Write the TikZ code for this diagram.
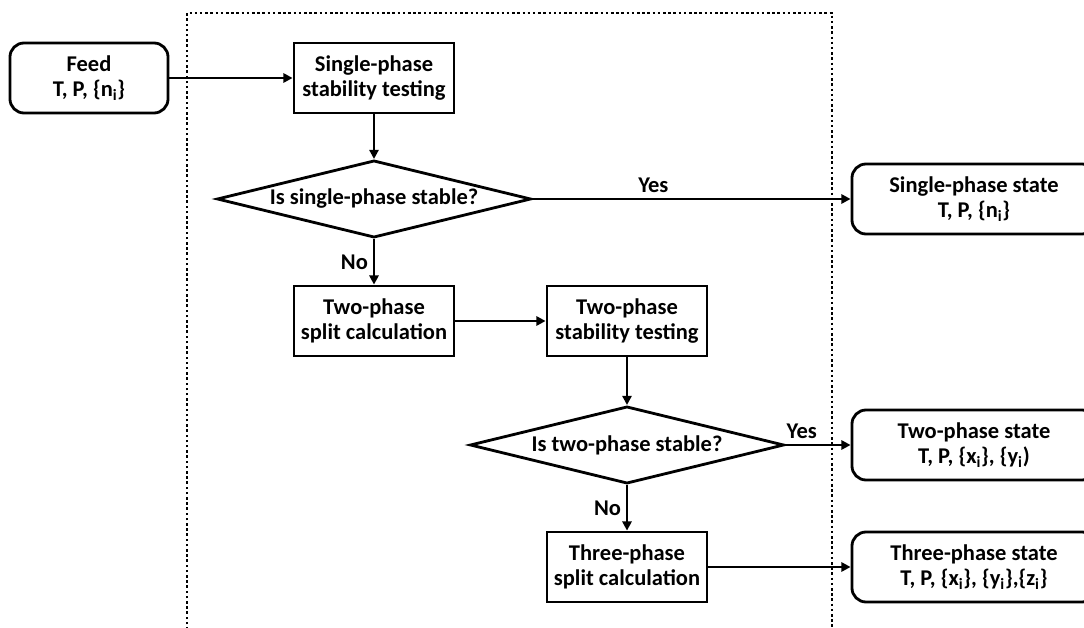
\documentclass[tikz,border=0pt]{standalone}
\usepackage{fontspec}
\setmainfont{Carlito}
\usetikzlibrary{shapes.geometric}
\usetikzlibrary{arrows.meta}

\begin{document}
\begin{tikzpicture}[x=0.025cm, y=-0.025cm,
    every node/.style={font=\fontsize{16}{18}\selectfont\bfseries},
    box/.style={draw, rectangle, line width=2pt, align=center, minimum width=4cm, minimum height=1.75cm, inner sep=2pt},
    state/.style={box, rounded corners=10pt, minimum width=6.1cm},
    decision/.style={draw, diamond, aspect=4.1, line width=2pt, minimum width=7.85cm, minimum height=1.93cm, inner sep=0pt},
    flow/.style={-{Triangle[length=6.5pt,width=6.5pt]}, line width=2pt}]
    \useasboundingbox (0,0) rectangle (1084,628);
    \clip (0,0) rectangle (1084,628);

    % frame round the calculation
    \draw[line width=1.8pt, dash pattern=on 1.8pt off 1.9pt] (187,640) |- (832,13) -- (832,640);

    \node[box, rounded corners=10pt, minimum width=3.95cm] (feed) at (89,78) {Feed\\T, P, \{n\textsubscript{i}\}};
    \node[box] (spstab) at (374,78) {Single-phase\\stability testing};
    \node[decision] (isspstable) at (374,199) {Is single-phase stable?};
    \node[state] (spstate) at (974,199) {Single-phase state\\T, P, \{n\textsubscript{i}\}};
    \node[box] (tpsplit) at (374,321) {Two-phase\\split calculation};
    \node[box] (tpstab) at (627,321) {Two-phase\\stability testing};
    \node[decision] (istpstable) at (627,445) {Is two-phase stable?};
    \node[state] (tpstate) at (974,445) {Two-phase state\\T, P, \{x\textsubscript{i}\}, \{y\textsubscript{i})};
    \node[box] (thsplit) at (627,567) {Three-phase\\split calculation};
    \node[state] (thstate) at (974,567) {Three-phase state\\T, P, \{x\textsubscript{i}\}, \{y\textsubscript{i}\},\{z\textsubscript{i}\}};

    \draw[flow] (feed) -- (spstab);
    \draw[flow] (spstab) -- (isspstable);
    \draw[flow] (isspstable) -- node[pos=0.38, above] {Yes} (spstate);
    \draw[flow] (isspstable) -- node[left] {No} (tpsplit);
    \draw[flow] (tpsplit) -- (tpstab);
    \draw[flow] (tpstab) -- (istpstable);
    \draw[flow] (istpstable) -- node[pos=0.25, above] {Yes} (tpstate);
    \draw[flow] (istpstable) -- node[left] {No} (thsplit);
    \draw[flow] (thsplit) -- (thstate);
\end{tikzpicture}
\end{document}
